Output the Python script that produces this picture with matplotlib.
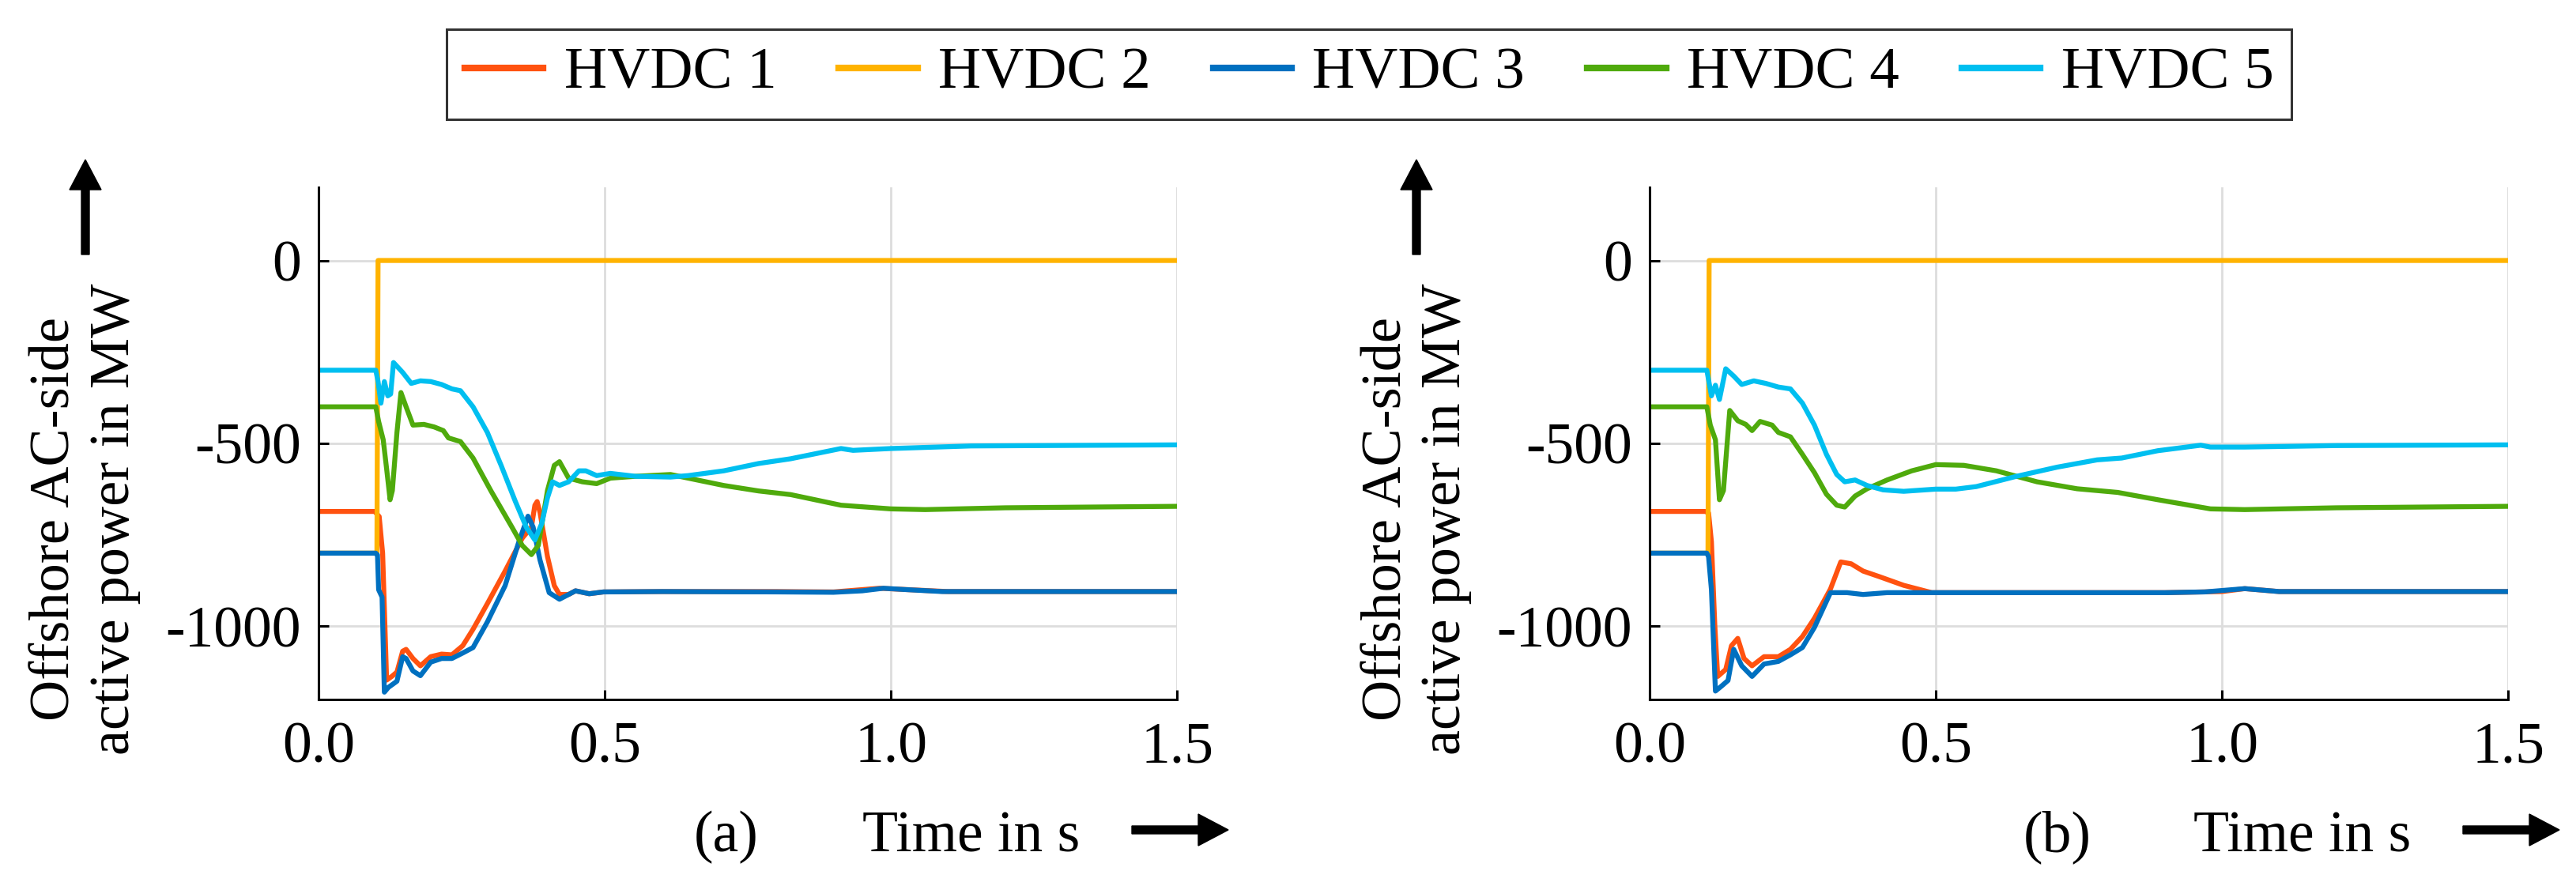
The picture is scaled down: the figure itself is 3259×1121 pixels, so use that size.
import numpy as np
import matplotlib
matplotlib.use("Agg")
import matplotlib.pyplot as plt
from matplotlib.patches import FancyArrow
from matplotlib.transforms import IdentityTransform

plt.rcParams['font.family'] = ['Liberation Serif', 'DejaVu Serif']
plt.rcParams['axes.unicode_minus'] = False

# ---- data (time in s, power in MW) ----
labels = ['HVDC 1', 'HVDC 2', 'HVDC 3', 'HVDC 4', 'HVDC 5']
colors = ['#FF5210', '#FFB300', '#0070C0', '#4FAA0C', '#00BFF0']

# panel (a)
t_a1 = [0, 0.098, 0.106, 0.112, 0.119, 0.128, 0.137, 0.147, 0.153, 0.165, 0.178, 0.196, 0.215, 0.233,
        0.252, 0.27, 0.295, 0.326, 0.356, 0.372, 0.378, 0.382, 0.387, 0.4, 0.412, 0.421, 0.437, 0.449,
        0.473, 0.498, 0.6, 0.8, 0.9, 0.98, 1.1, 1.5]
p_a1 = [-686, -686, -700, -800, -1147, -1137, -1125, -1068, -1063, -1088, -1108, -1083, -1076, -1078,
        -1053, -1008, -938, -849, -759, -729, -669, -659, -689, -809, -889, -913, -913, -903,
        -911, -906, -905, -905, -906, -896, -905, -905]
t_a2 = [0, 0.102, 0.104, 1.5]
p_a2 = [-800, -800, 0, 0]
t_a3 = [0, 0.1, 0.103, 0.105, 0.111, 0.115, 0.122, 0.13, 0.137, 0.147, 0.153, 0.165, 0.178, 0.196,
        0.215, 0.233, 0.252, 0.27, 0.295, 0.326, 0.35, 0.366, 0.375, 0.387, 0.403, 0.421, 0.437, 0.449,
        0.473, 0.498, 0.6, 0.8, 0.9, 0.95, 0.987, 1.03, 1.09, 1.5]
p_a3 = [-800, -800, -805, -900, -920, -1180, -1167, -1158, -1150, -1083, -1088, -1122, -1135, -1098,
        -1088, -1088, -1073, -1058, -988, -889, -769, -699, -729, -819, -908, -926, -913, -903,
        -911, -906, -905, -906, -907, -903, -896, -900, -905, -905]
t_a4 = [0, 0.1, 0.105, 0.113, 0.119, 0.125, 0.129, 0.137, 0.144, 0.153, 0.165, 0.184, 0.202, 0.218,
        0.227, 0.248, 0.27, 0.301, 0.338, 0.356, 0.372, 0.384, 0.4, 0.412, 0.421, 0.437, 0.461, 0.486,
        0.51, 0.554, 0.615, 0.646, 0.708, 0.769, 0.825, 0.913, 1.0, 1.06, 1.2, 1.5]
p_a4 = [-400, -400, -440, -490, -570, -654, -629, -470, -361, -400, -450, -448, -455, -465,
        -485, -495, -540, -629, -729, -779, -804, -779, -629, -560, -550, -595, -605, -610,
        -595, -590, -585, -595, -615, -630, -640, -669, -679, -681, -676, -672]
t_a5 = [0, 0.1, 0.104, 0.109, 0.115, 0.121, 0.126, 0.131, 0.147, 0.162, 0.178, 0.196, 0.215, 0.233,
        0.248, 0.27, 0.295, 0.319, 0.344, 0.363, 0.378, 0.39, 0.4, 0.409, 0.421, 0.437, 0.455, 0.467,
        0.486, 0.51, 0.554, 0.615, 0.646, 0.708, 0.769, 0.825, 0.913, 0.934, 1.0, 1.14, 1.5]
p_a5 = [-300, -300, -331, -390, -331, -370, -365, -279, -306, -336, -329, -331, -339, -351,
        -356, -400, -470, -560, -659, -729, -764, -719, -649, -605, -615, -605, -575, -575,
        -588, -582, -590, -592, -588, -575, -555, -542, -514, -519, -514, -507, -504]

# panel (b)
t_b1 = [0, 0.097, 0.103, 0.108, 0.114, 0.119, 0.133, 0.143, 0.154, 0.165, 0.179, 0.2, 0.225, 0.246,
        0.267, 0.288, 0.316, 0.334, 0.352, 0.373, 0.401, 0.444, 0.493, 0.6, 0.9, 1.0, 1.04, 1.1, 1.5]
p_b1 = [-686, -686, -690, -769, -1000, -1137, -1118, -1053, -1033, -1088, -1108, -1083, -1083, -1063,
        -1028, -978, -898, -824, -829, -849, -864, -888, -908, -908, -908, -905, -897, -905, -905]
t_b2 = [0, 0.102, 0.104, 1.5]
p_b2 = [-800, -800, 0, 0]
t_b3 = [0, 0.1, 0.103, 0.108, 0.115, 0.126, 0.137, 0.147, 0.161, 0.179, 0.2, 0.225, 0.246, 0.267,
        0.288, 0.316, 0.345, 0.373, 0.415, 0.5, 0.9, 0.97, 1.04, 1.1, 1.5]
p_b3 = [-800, -800, -810, -900, -1177, -1163, -1148, -1063, -1108, -1137, -1103, -1096, -1078, -1058,
        -1003, -908, -908, -913, -908, -908, -908, -906, -897, -905, -905]
t_b4 = [0, 0.1, 0.106, 0.115, 0.122, 0.129, 0.14, 0.154, 0.168, 0.179, 0.193, 0.214, 0.225, 0.246,
        0.267, 0.288, 0.309, 0.327, 0.341, 0.359, 0.38, 0.415, 0.458, 0.5, 0.549, 0.606, 0.677, 0.747,
        0.818, 0.888, 0.98, 1.04, 1.2, 1.5]
p_b4 = [-400, -400, -450, -490, -654, -629, -410, -438, -448, -465, -440, -450, -470, -482,
        -530, -580, -639, -669, -674, -644, -624, -600, -575, -558, -560, -575, -605, -624,
        -634, -654, -679, -681, -676, -672]
t_b5 = [0, 0.1, 0.108, 0.115, 0.122, 0.133, 0.147, 0.161, 0.182, 0.203, 0.225, 0.246, 0.267, 0.288,
        0.309, 0.327, 0.341, 0.359, 0.38, 0.408, 0.444, 0.5, 0.535, 0.571, 0.641, 0.712, 0.782, 0.825,
        0.888, 0.963, 0.98, 1.04, 1.2, 1.5]
p_b5 = [-300, -300, -370, -341, -380, -296, -316, -339, -329, -336, -346, -351, -390, -450,
        -530, -585, -605, -600, -615, -627, -631, -625, -625, -618, -590, -565, -545, -540,
        -520, -505, -510, -510, -506, -504]

panel_a = [(t_a1, p_a1), (t_a2, p_a2), (t_a3, p_a3), (t_a4, p_a4), (t_a5, p_a5)]
panel_b = [(t_b1, p_b1), (t_b2, p_b2), (t_b3, p_b3), (t_b4, p_b4), (t_b5, p_b5)]

x_ticks = [0, 0.5, 1.0, 1.5]
x_ticklabels = ['0.0', '0.5', '1.0', '1.5']
y_ticks = [-1000, -500, 0]

W, H = 3259, 1121
fig = plt.figure(figsize=(W / 100, H / 100), dpi=100)

FS = 53
ax_left_px = [403, 2087]
lines_for_legend = None
for k, (panel, tag) in enumerate([(panel_a, '(a)'), (panel_b, '(b)')]):
    x0 = ax_left_px[k]
    ax = fig.add_axes([x0 / W, (H - 885) / H, 1086 / W, 648 / H])
    handles = []
    for (t, p), c, lab in zip(panel, colors, labels):
        ln, = ax.plot(t, p, color=c, lw=4.5, label=lab, solid_joinstyle='round')
        handles.append(ln)
    if lines_for_legend is None:
        lines_for_legend = handles
    ax.set_xlim(0, 1.5)
    ax.set_ylim(-1200, 200)
    ax.set_xticks(x_ticks)
    ax.set_xticklabels(x_ticklabels)
    ax.set_yticks(y_ticks)
    ax.grid(True, color='#dddddd', lw=2)
    ax.set_axisbelow(True)
    for s in ['top', 'right']:
        ax.spines[s].set_visible(False)
    for s in ['left', 'bottom']:
        ax.spines[s].set_linewidth(2.2)
    ax.tick_params(axis='both', direction='in', length=9, width=2.2, labelsize=FS)
    ax.tick_params(axis='y', pad=16)
    ax.tick_params(axis='x', pad=20)

    # y label and arrow
    xl = x0 - 295
    fig.text(xl / W, (H - 657) / H, 'Offshore AC-side\nactive power in MW', rotation=90,
             ha='center', va='center', fontsize=52, linespacing=1.2)
    fig.add_artist(FancyArrow(xl, H - 322, 0, 120, width=10, head_width=40, head_length=38,
                              length_includes_head=True, color='k', transform=IdentityTransform()))

    # x label, panel tag and arrow
    fig.text((x0 + 516) / W, (H - 1077) / H, tag, ha='center', va='baseline', fontsize=FS)
    fig.text((x0 + 688) / W, (H - 1077) / H, 'Time in s', ha='left', va='baseline', fontsize=FS)
    fig.add_artist(FancyArrow(x0 + 1029, H - 1050, 122, 0, width=10, head_width=40, head_length=38,
                              length_includes_head=True, color='k', transform=IdentityTransform()))

leg = fig.legend(lines_for_legend, labels, loc='upper left', bbox_to_anchor=(565 / W, 1 - 37 / H),
                 ncol=5, fontsize=54, frameon=True, fancybox=False, borderaxespad=0,
                 handlelength=1.33, handletextpad=0.35, columnspacing=1.05, borderpad=0.3)
leg.get_frame().set_edgecolor('black')
leg.get_frame().set_linewidth(2.2)
for ln in leg.get_lines():
    ln.set_linewidth(6)

fig.savefig('out.png', dpi=100)
